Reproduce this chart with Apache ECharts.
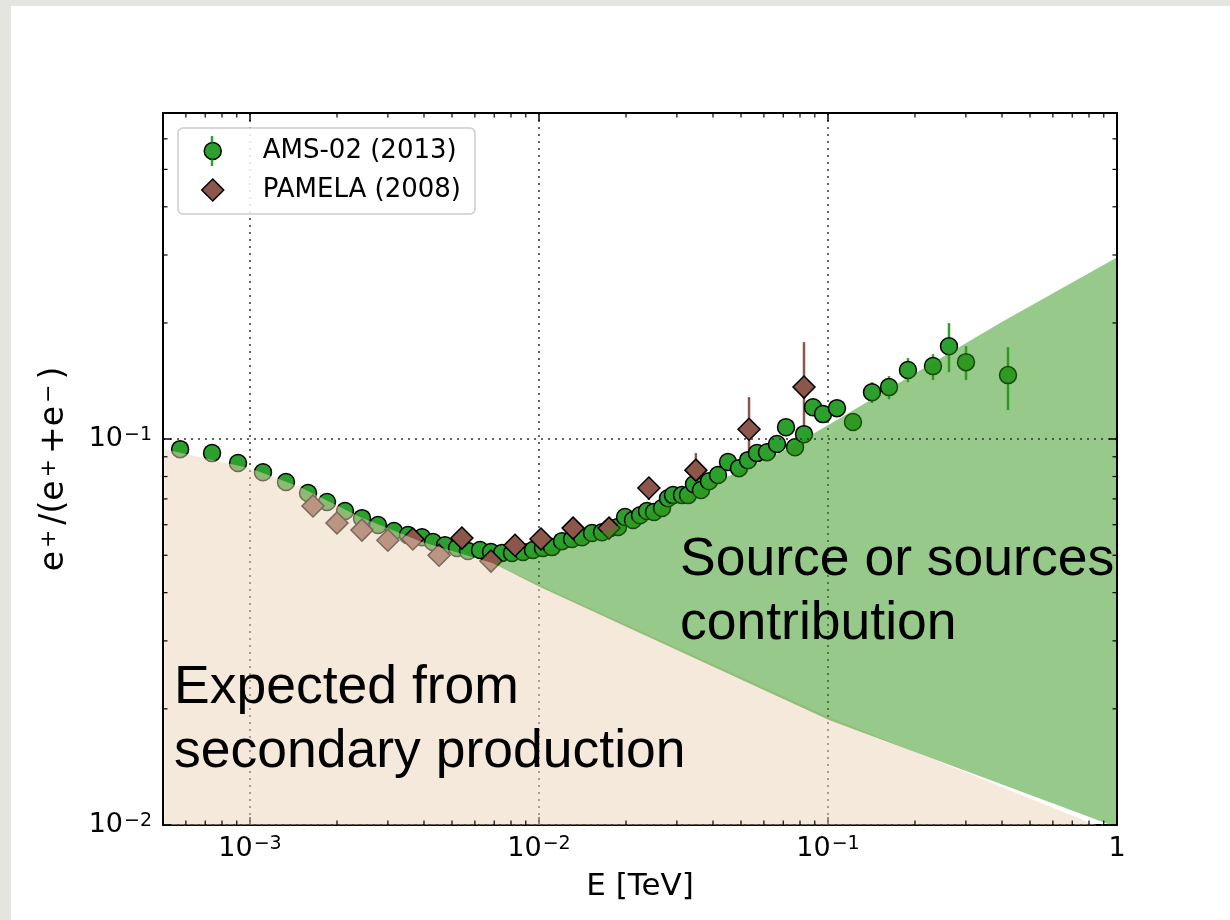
<!DOCTYPE html>
<html><head><meta charset="utf-8">
<script src="https://cdn.jsdelivr.net/npm/echarts@6/dist/echarts.min.js"></script>
<style>
html,body{margin:0;padding:0;width:1230px;height:920px;overflow:hidden;background:#e4e4e0;}
#panel{position:absolute;left:11px;top:6px;width:1219px;height:914px;background:#ffffff;}
#chart{position:absolute;left:0;top:0;width:1230px;height:920px;}
</style></head><body>
<div id="panel"></div><div id="chart"></div>
<script>
// ---- AMS-02 (2013) positron fraction, E in TeV ----
const amsEnergy = [5.73e-4, 7.39e-4, 9.09e-4, 1.109e-3, 1.332e-3, 1.588e-3, 1.847e-3, 2.132e-3, 2.441e-3, 2.773e-3,
  3.149e-3, 3.521e-3, 3.937e-3, 4.298e-3, 4.728e-3, 5.203e-3, 5.679e-3, 6.249e-3, 6.823e-3, 7.447e-3,
  8.065e-3, 8.805e-3, 9.533e-3, 1.032e-2, 1.109e-2, 1.201e-2, 1.301e-2, 1.409e-2, 1.526e-2, 1.652e-2,
  1.761e-2, 1.877e-2, 1.985e-2, 2.115e-2, 2.236e-2, 2.364e-2, 2.500e-2, 2.665e-2, 2.795e-2, 2.909e-2,
  3.124e-2, 3.278e-2, 3.438e-2, 3.636e-2, 3.875e-2, 4.163e-2, 4.508e-2, 4.920e-2, 5.287e-2, 5.680e-2,
  6.151e-2, 6.661e-2, 7.157e-2, 7.689e-2, 8.260e-2, 8.875e-2, 9.610e-2, 0.1074, 0.1220, 0.1420,
  0.1626, 0.1891, 0.2308, 0.2622, 0.3003, 0.4196];
const amsFraction = [0.0942, 0.0920, 0.0867, 0.0821, 0.0774, 0.0725, 0.0687, 0.0651, 0.0624, 0.0599,
  0.0578, 0.0564, 0.0557, 0.0541, 0.0531, 0.0522, 0.0513, 0.0516, 0.0510, 0.0507,
  0.0507, 0.0510, 0.0516, 0.0522, 0.0525, 0.0544, 0.0551, 0.0557, 0.0571, 0.0574,
  0.0588, 0.0592, 0.0628, 0.0617, 0.0635, 0.0651, 0.0647, 0.0663, 0.0703, 0.0716,
  0.0716, 0.0716, 0.0764, 0.0738, 0.0778, 0.0807, 0.0872, 0.0841, 0.0882, 0.0920,
  0.0925, 0.0971, 0.1074, 0.0953, 0.1030, 0.1210, 0.1161, 0.1203, 0.1107, 0.1323,
  0.1364, 0.1510, 0.1546, 0.1741, 0.1583, 0.1465];
// visible AMS error bars
const amsErrEnergy = [0.1420, 0.1626, 0.1891, 0.2308, 0.2622, 0.3003, 0.4196];
const amsErrLow    = [0.1240, 0.1269, 0.1405, 0.1422, 0.1491, 0.1422, 0.1189];
const amsErrHigh   = [0.1405, 0.1456, 0.1621, 0.1660, 0.1998, 0.1741, 0.1731];

// ---- PAMELA (2008) ----
const pamEnergy = [1.652e-3, 2.0e-3, 2.44e-3, 3.0e-3, 3.66e-3, 4.51e-3, 5.41e-3, 6.82e-3, 8.26e-3, 1.016e-2,
  1.312e-2, 1.747e-2, 2.40e-2, 3.49e-2, 5.33e-2, 8.26e-2];
const pamFraction = [0.0671, 0.0606, 0.0581, 0.0547, 0.0551, 0.0500, 0.0554, 0.0483, 0.0531, 0.0551,
  0.0588, 0.0588, 0.0747, 0.0831, 0.1061, 0.1364];
const pamErrEnergy = [2.40e-2, 3.49e-2, 5.33e-2, 8.26e-2];
const pamErrLow    = [0.0695, 0.0738, 0.0840, 0.0976];
const pamErrHigh   = [0.0797, 0.0920, 0.1285, 0.1784];

// ---- shaded regions ----
const secondaryEnergy = [5.05e-4, 1e-3, 1.489e-3, 2.403e-3, 3.873e-3, 6.93e-3, 1.008e-2, 0.1008, 0.794, 0.873];
const secondaryTop    = [0.0942, 0.0841, 0.0751, 0.0628, 0.0544, 0.0477, 0.0418, 0.01905, 0.01018, 0.0099];
const secondaryBottomEnergy = [0.873, 5.05e-4];
const secondaryBottom       = [0.0099, 0.0099];
const sourceTopEnergy = [6.93e-3, 1.008e-2, 1.626e-2, 2.622e-2, 4.23e-2, 6.82e-2, 0.110, 0.1775, 0.3938, 0.995];
const sourceTop       = [0.0477, 0.0510, 0.0571, 0.0663, 0.0783, 0.0920, 0.1133, 0.1405, 0.1998, 0.2950];
const sourceBottomEnergy = [0.995, 0.1008, 1.008e-2, 6.93e-3];
const sourceBottom       = [0.00988, 0.0187, 0.0414, 0.0477];

// ---- ticks ----
const xTickValues = [1e-3, 1e-2, 1e-1, 1];
const xTickBase = ['10', '10', '10', '1'];
const xTickExp  = ['−3', '−2', '−1', ''];
const yTickValues = [1e-2, 1e-1];
const yTickBase = ['10', '10'];
const yTickExp  = ['−2', '−1'];
const xMinorTicks = [6e-4, 7e-4, 8e-4, 9e-4, 2e-3, 3e-3, 4e-3, 5e-3, 6e-3, 7e-3, 8e-3, 9e-3,
  2e-2, 3e-2, 4e-2, 5e-2, 6e-2, 7e-2, 8e-2, 9e-2, 0.2, 0.3, 0.4, 0.5, 0.6, 0.7, 0.8, 0.9];
const yMinorTicks = [0.02, 0.03, 0.04, 0.05, 0.06, 0.07, 0.08, 0.09, 0.2, 0.3, 0.4, 0.5, 0.6];

const GREEN = '#2ca02c', BROWN = '#8c564b';
const tickFont = 'DejaVu Sans';

function tickFormatter(vals, bases, exps) {
  return function (v) {
    for (let i = 0; i < vals.length; i++) {
      if (Math.abs(Math.log10(v) - Math.log10(vals[i])) < 1e-6) {
        return exps[i] ? '{b|' + bases[i] + '}{s|' + exps[i] + '}' : '{b|' + bases[i] + '}';
      }
    }
    return '';
  };
}
const tickRich = {
  b: { fontFamily: tickFont, fontSize: 27, lineHeight: 27, padding: [8, 0, 0, 0], verticalAlign: 'bottom', color: '#000' },
  s: { fontFamily: tickFont, fontSize: 19, lineHeight: 19, verticalAlign: 'top', padding: [0, 0, 0, 1], color: '#000' }
};

function polygonSeries(name, topE, topV, botE, botV, color, z) {
  return {
    type: 'custom', name: name, coordinateSystem: 'cartesian2d', z: z, silent: true, clip: true,
    data: [[0.01, 0.05]],
    renderItem: function (params, api) {
      const pts = [];
      for (let i = 0; i < topE.length; i++) pts.push(api.coord([topE[i], topV[i]]));
      for (let i = 0; i < botE.length; i++) pts.push(api.coord([botE[i], botV[i]]));
      return { type: 'polygon', shape: { points: pts }, style: { fill: color } };
    }
  };
}
function errorSeries(name, es, lo, hi, color) {
  return {
    type: 'custom', name: name, coordinateSystem: 'cartesian2d', z: 1, silent: true,
    encode: { x: 0, y: [1, 2] },
    data: es.map(function (e, i) { return [e, lo[i], hi[i]]; }),
    renderItem: function (params, api) {
      const p1 = api.coord([api.value(0), api.value(1)]);
      const p2 = api.coord([api.value(0), api.value(2)]);
      return { type: 'line', shape: { x1: p1[0], y1: p1[1], x2: p2[0], y2: p2[1] }, style: { stroke: color, lineWidth: 2.5 } };
    }
  };
}
const minorTickSeries = {
  type: 'custom', name: 'minor', coordinateSystem: 'cartesian2d', z: 6, silent: true, clip: false,
  data: [[0.01, 0.05]],
  renderItem: function (params, api) {
    const cs = params.coordSys;
    const children = [];
    const st = { stroke: '#000', lineWidth: 1.2 };
    xMinorTicks.forEach(function (v) {
      const x = api.coord([v, 0.05])[0];
      children.push({ type: 'line', shape: { x1: x, y1: cs.y + cs.height, x2: x, y2: cs.y + cs.height - 4.5 }, style: st });
      children.push({ type: 'line', shape: { x1: x, y1: cs.y, x2: x, y2: cs.y + 4.5 }, style: st });
    });
    yMinorTicks.forEach(function (v) {
      const y = api.coord([0.01, v])[1];
      children.push({ type: 'line', shape: { x1: cs.x, y1: y, x2: cs.x + 4.5, y2: y }, style: st });
      children.push({ type: 'line', shape: { x1: cs.x + cs.width, y1: y, x2: cs.x + cs.width - 4.5, y2: y }, style: st });
    });
    return { type: 'group', children: children };
  }
};

const chart = echarts.init(document.getElementById('chart'), null, { renderer: 'canvas' });
const gridDots = { color: '#333', width: 1.5, type: [2, 5] };
const circleIcon = 'path://M0,0M22,22M19.5,11A8.5,8.5,0,1,1,2.5,11A8.5,8.5,0,1,1,19.5,11Z';

chart.setOption({
  animation: false,
  backgroundColor: 'transparent',
  grid: { left: 163, top: 113, width: 954, height: 712 },
  legend: {
    orient: 'vertical', left: 178, top: 128,
    padding: [10, 14, 11, 23], itemGap: 13, itemWidth: 22, itemHeight: 22,
    backgroundColor: 'rgba(255,255,255,0.85)', borderColor: '#cccccc', borderWidth: 1.5, borderRadius: 5,
    textStyle: { fontFamily: tickFont, fontSize: 26, lineHeight: 26, color: '#000', padding: [0, 0, 0, 34] },
    data: [
      { name: 'AMS-02 (2013)', icon: circleIcon, itemStyle: { color: GREEN, borderColor: '#000', borderWidth: 1.5 } },
      { name: 'PAMELA (2008)', icon: 'diamond', itemStyle: { color: BROWN, borderColor: '#000', borderWidth: 1.5 } }
    ]
  },
  xAxis: [{
    type: 'log', min: 5e-4, max: 1, position: 'bottom', z: 0,
    axisLine: { lineStyle: { color: '#000', width: 2 } },
    axisTick: { inside: true, length: 8, lineStyle: { color: '#000', width: 1.5 } },
    axisLabel: { margin: 10, formatter: tickFormatter(xTickValues, xTickBase, xTickExp), rich: tickRich },
    splitLine: { show: true, lineStyle: gridDots },
    name: 'E [TeV]', nameLocation: 'middle', nameGap: 46,
    nameTextStyle: { fontFamily: tickFont, fontSize: 31, color: '#000' }
  }, {
    type: 'log', min: 5e-4, max: 1, position: 'top', z: 5,
    axisLine: { lineStyle: { color: '#000', width: 2 } },
    axisTick: { inside: true, length: 8, lineStyle: { color: '#000', width: 1.5 } },
    axisLabel: { show: false }, splitLine: { show: false }
  }],
  yAxis: [{
    type: 'log', min: 0.01, max: 0.7, position: 'left', z: 5,
    axisLine: { lineStyle: { color: '#000', width: 2 } },
    axisTick: { inside: true, length: 8, lineStyle: { color: '#000', width: 1.5 } },
    axisLabel: { margin: 11, formatter: tickFormatter(yTickValues, yTickBase, yTickExp), rich: tickRich },
    splitLine: { show: true, lineStyle: gridDots },
    name: '{b|e}{s|+}{b|/(e}{s|+}{b|+e}{s|−}{b|)}', nameLocation: 'middle', nameGap: 92, nameRotate: 90,
    nameTextStyle: {
      rich: {
        b: { fontFamily: tickFont, fontSize: 33, lineHeight: 33, padding: [10, 0, 0, 0], verticalAlign: 'bottom', color: '#000' },
        s: { fontFamily: tickFont, fontSize: 22, lineHeight: 22, verticalAlign: 'top', padding: [0, 5, 0, 3], color: '#000' }
      }
    }
  }, {
    type: 'log', min: 0.01, max: 0.7, position: 'right', z: 5,
    axisLine: { lineStyle: { color: '#000', width: 2 } },
    axisTick: { inside: true, length: 8, lineStyle: { color: '#000', width: 1.5 } },
    axisLabel: { show: false }, splitLine: { show: false }
  }],
  series: [
    errorSeries('AMS err', amsErrEnergy, amsErrLow, amsErrHigh, GREEN),
    errorSeries('PAMELA err', pamErrEnergy, pamErrLow, pamErrHigh, BROWN),
    {
      type: 'scatter', name: 'AMS-02 (2013)', z: 2, symbol: 'circle', symbolSize: 17,
      itemStyle: { color: GREEN, borderColor: '#000', borderWidth: 1.5, opacity: 1 },
      data: amsEnergy.map(function (e, i) { return [e, amsFraction[i]]; })
    },
    {
      type: 'scatter', name: 'PAMELA (2008)', z: 2, symbol: 'diamond', symbolSize: 22,
      itemStyle: { color: BROWN, borderColor: '#000', borderWidth: 1.5, opacity: 1 },
      data: pamEnergy.map(function (e, i) { return [e, pamFraction[i]]; })
    },
    polygonSeries('secondary', secondaryEnergy, secondaryTop, secondaryBottomEnergy, secondaryBottom, 'rgba(235,211,185,0.5)', 3),
    polygonSeries('source', sourceTopEnergy, sourceTop, sourceBottomEnergy, sourceBottom, 'rgba(47,147,21,0.5)', 3),
    minorTickSeries
  ],
  graphic: [
    { type: 'line', z: 100, shape: { x1: 212, y1: 136, x2: 212, y2: 142.5 }, style: { stroke: GREEN, lineWidth: 2.5 } },
    { type: 'line', z: 100, shape: { x1: 212, y1: 159.5, x2: 212, y2: 166 }, style: { stroke: GREEN, lineWidth: 2.5 } },
    { type: 'text', z: 100, left: 680, top: 528,
      style: { text: 'Source or sources\ncontribution', font: '53.5px "Liberation Sans"', lineHeight: 64, fill: '#000' } },
    { type: 'text', z: 100, left: 174, top: 656,
      style: { text: 'Expected from\nsecondary production', font: '53.5px "Liberation Sans"', lineHeight: 64, fill: '#000' } }
  ]
});
</script>
</body></html>
